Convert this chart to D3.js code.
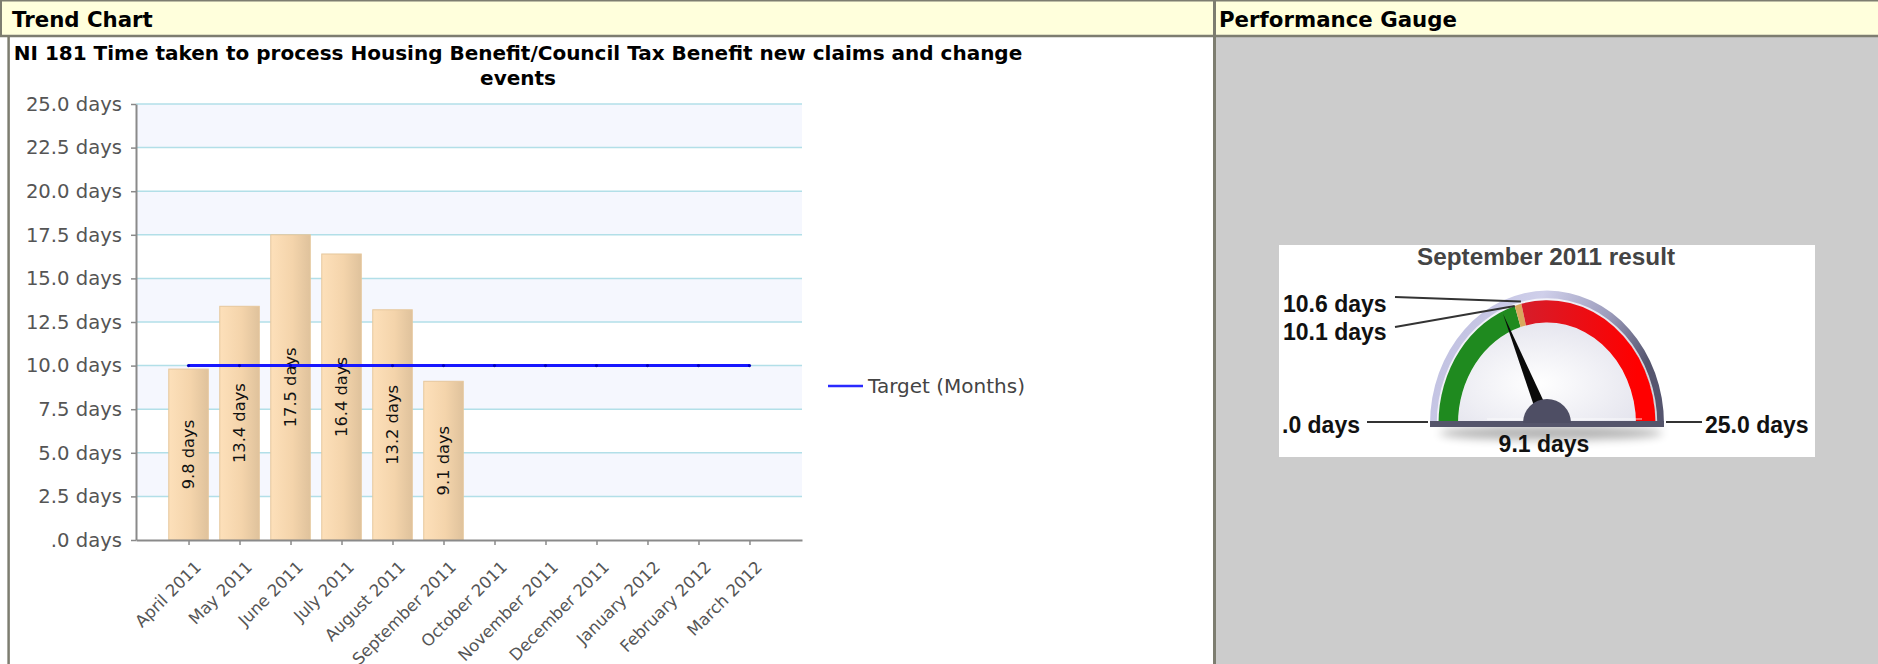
<!DOCTYPE html>
<html>
<head>
<meta charset="utf-8">
<script src="https://cdn.jsdelivr.net/npm/d3@7"></script>
<style>
  body { margin: 0; background: #fff; overflow: hidden; }
  svg { display: block; }
</style>
</head>
<body>
<svg id="page"></svg>
<script>
// ---- data ----
const months = ['April 2011', 'May 2011', 'June 2011', 'July 2011', 'August 2011', 'September 2011',
                'October 2011', 'November 2011', 'December 2011', 'January 2012', 'February 2012', 'March 2012'];
const monthValues = [9.8, 13.4, 17.5, 16.4, 13.2, 9.1]; // only Apr - Sep reported so far
const targetValues = [10, 10, 10, 10, 10, 10, 10, 10, 10, 10, 10, 10];
const yTicks = [0, 2.5, 5, 7.5, 10, 12.5, 15, 17.5, 20, 22.5, 25];
const chartTitle = ['NI 181 Time taken to process Housing Benefit/Council Tax Benefit new claims and change', 'events'];
const legendLabel = 'Target (Months)';
const headers = ['Trend Chart', 'Performance Gauge'];

const gaugeTitle = 'September 2011 result';
const gaugeRange = [0, 25];
const gaugeValue = 9.1;
const gaugeBands = [0, 10.1, 10.6, 25]; // green | amber | red

let w = 1878;
let h = 664;
let chartFont = "'DejaVu Sans', Verdana, sans-serif";
let gaugeFont = "'Liberation Sans', Arial, sans-serif";

let svg = d3.select('#page').attr('width', w).attr('height', h);
let defs = svg.append('defs');

let fmt = v => d3.format('.1f')(v).replace(/^0\./, '.') + ' days';

// ---- page frame (two cell table) ----
let drawFrame = () => {
  let border = '#7d7d70';
  svg.append('rect').attr('x', 0).attr('y', 0).attr('width', w).attr('height', 36).attr('fill', '#ffffdc');
  svg.append('rect').attr('x', 1215).attr('y', 36).attr('width', w - 1215).attr('height', h - 36).attr('fill', '#cccccc');

  let lines = [
    [0, 0.75, w, 0.75, 1.5],
    [0, 36, w, 36, 2.5],
    [1, 0, 1, 36, 2],
    [8.6, 36, 8.6, h, 2.5],
    [1214.5, 0, 1214.5, h, 3]
  ];
  svg.selectAll('.frame').data(lines).join('line')
     .attr('class', 'frame')
     .attr('x1', d => d[0]).attr('y1', d => d[1])
     .attr('x2', d => d[2]).attr('y2', d => d[3])
     .attr('stroke', border).attr('stroke-width', d => d[4]);

  svg.selectAll('.hdr').data(headers).join('text')
     .attr('class', 'hdr')
     .attr('x', (d, i) => i === 0 ? 12 : 1219)
     .attr('y', 27)
     .attr('font-family', chartFont).attr('font-weight', 'bold').attr('font-size', 21.3)
     .attr('fill', '#000')
     .text(d => d);
}

// ---- trend chart ----
let xSc, ySc;

let drawChart = () => {
  xSc = d3.scalePoint().domain(months).range([136, 802]).padding(1.03);
  ySc = d3.scaleLinear().domain([0, 25]).range([540, 104]);

  let bg = defs.append('linearGradient').attr('id', 'barGrad').attr('x1', 0).attr('x2', 1).attr('y1', 0).attr('y2', 0);
  bg.append('stop').attr('offset', '0%').attr('stop-color', '#fde0ba');
  bg.append('stop').attr('offset', '55%').attr('stop-color', '#f4d4ab');
  bg.append('stop').attr('offset', '100%').attr('stop-color', '#dfc29c');

  svg.append('g').selectAll('text').data(chartTitle).join('text')
     .attr('x', 518).attr('y', (d, i) => 59.5 + i * 25)
     .attr('text-anchor', 'middle')
     .attr('font-family', chartFont).attr('font-weight', 'bold').attr('font-size', 20)
     .text(d => d);

  // alternate tinted bands, topmost one tinted
  svg.append('g').selectAll('rect')
     .data(d3.range(yTicks.length - 1).filter(k => k % 2 === 1))
     .join('rect')
     .attr('x', 136).attr('width', 666)
     .attr('y', k => ySc(yTicks[k + 1]))
     .attr('height', k => ySc(yTicks[k]) - ySc(yTicks[k + 1]))
     .attr('fill', '#f5f7fe');

  svg.append('g').selectAll('line').data(yTicks.slice(1)).join('line')
     .attr('x1', 136).attr('x2', 802)
     .attr('y1', d => ySc(d)).attr('y2', d => ySc(d))
     .attr('stroke', '#b2dfe8').attr('stroke-width', 1.5);

  svg.append('g').selectAll('rect').data(monthValues).join('rect')
     .attr('x', (d, i) => xSc(months[i]) - 19.75)
     .attr('width', 39.5)
     .attr('y', d => ySc(d))
     .attr('height', d => ySc(0) - ySc(d))
     .attr('fill', 'url(#barGrad)')
     .attr('stroke', '#e6c79c').attr('stroke-width', 1);

  svg.append('g').selectAll('text').data(monthValues).join('text')
     .attr('transform', (d, i) => 'translate(' + xSc(months[i]) + ',' + (ySc(d) + ySc(0)) / 2 + ') rotate(-90)')
     .attr('text-anchor', 'middle').attr('dy', '0.35em')
     .attr('font-family', chartFont).attr('font-size', 16.3).attr('fill', '#111')
     .text(d => fmt(d));

  let line = d3.line().x((d, i) => xSc(months[i])).y(d => ySc(d));
  svg.append('path').datum(targetValues)
     .attr('d', line).attr('fill', 'none')
     .attr('stroke', '#1717ff').attr('stroke-width', 3);
  svg.append('g').selectAll('circle').data(targetValues).join('circle')
     .attr('cx', (d, i) => xSc(months[i])).attr('cy', d => ySc(d)).attr('r', 1.6)
     .attr('fill', '#0000c0');

  let yAxis = d3.axisLeft(ySc).tickValues(yTicks).tickFormat(fmt)
                .tickSize(5).tickSizeOuter(0).tickPadding(9);
  let yg = svg.append('g').attr('transform', 'translate(136,0)').call(yAxis)
              .attr('font-family', chartFont).attr('font-size', 19.6);
  yg.select('.domain').attr('stroke', '#8a8a8a').attr('stroke-width', 2);
  yg.selectAll('.tick line').attr('stroke', '#8a8a8a').attr('stroke-width', 1.5);
  yg.selectAll('.tick text').attr('fill', '#555');

  let xAxis = d3.axisBottom(xSc).tickSize(5).tickSizeOuter(0);
  let xg = svg.append('g').attr('transform', 'translate(0,540)').call(xAxis)
              .attr('font-family', chartFont).attr('font-size', 16.5);
  xg.select('.domain').attr('stroke', '#8a8a8a').attr('stroke-width', 2);
  xg.selectAll('.tick line').attr('stroke', '#8a8a8a').attr('stroke-width', 1.5);
  xg.selectAll('.tick text')
    .attr('x', 0).attr('y', 0).attr('dy', '0.35em')
    .attr('text-anchor', 'end')
    .attr('transform', 'translate(9,24) rotate(-45)')
    .attr('fill', '#555');

  // legend
  svg.append('line').attr('x1', 828).attr('x2', 863).attr('y1', 386).attr('y2', 386)
     .attr('stroke', '#2a2aff').attr('stroke-width', 2.5);
  svg.append('text').attr('x', 868).attr('y', 386).attr('dy', '0.35em')
     .attr('font-family', chartFont).attr('font-size', 20).attr('fill', '#444')
     .text(legendLabel);
}

// ---- performance gauge ----
let drawGauge = () => {
  let cx = 1547, cy = 424, k = 1.14;
  let rFace = 89, rBand = 108.5, rBezel = 117;

  let ang = d3.scaleLinear().domain(gaugeRange).range([-Math.PI / 2, Math.PI / 2]);
  let arc = d3.arc();
  let pt = (v, r) => [cx + r * Math.sin(ang(v)), cy - r * k * Math.cos(ang(v))];

  let bz = defs.append('linearGradient').attr('id', 'bezelGrad').attr('x1', 0).attr('x2', 1).attr('y1', 0).attr('y2', 0.3);
  bz.append('stop').attr('offset', '0%').attr('stop-color', '#b9b9dc');
  bz.append('stop').attr('offset', '45%').attr('stop-color', '#cfcfea');
  bz.append('stop').attr('offset', '75%').attr('stop-color', '#9c9cbc');
  bz.append('stop').attr('offset', '100%').attr('stop-color', '#55556e');

  let fg = defs.append('radialGradient').attr('id', 'faceGrad').attr('cx', '45%').attr('cy', '60%').attr('r', '70%');
  fg.append('stop').attr('offset', '0%').attr('stop-color', '#ffffff');
  fg.append('stop').attr('offset', '100%').attr('stop-color', '#e2e2ec');

  let rg = defs.append('linearGradient').attr('id', 'redGrad').attr('gradientUnits', 'userSpaceOnUse')
               .attr('x1', -30).attr('x2', 90).attr('y1', 0).attr('y2', 0);
  rg.append('stop').attr('offset', '0%').attr('stop-color', '#d41e2c');
  rg.append('stop').attr('offset', '100%').attr('stop-color', '#ff0000');

  defs.append('filter').attr('id', 'soft').attr('x', '-20%').attr('y', '-200%').attr('width', '140%').attr('height', '500%')
      .append('feGaussianBlur').attr('stdDeviation', 5);

  svg.append('rect').attr('x', 1279).attr('y', 245).attr('width', 536).attr('height', 212).attr('fill', '#fff');

  svg.append('text').attr('x', cx - 1).attr('y', 265).attr('text-anchor', 'middle')
     .attr('font-family', gaugeFont).attr('font-weight', 'bold').attr('font-size', 24.3).attr('fill', '#444')
     .text(gaugeTitle);

  svg.append('ellipse').attr('cx', cx + 4).attr('cy', cy + 9).attr('rx', 112).attr('ry', 7)
     .attr('fill', '#000').attr('opacity', 0.3).attr('filter', 'url(#soft)');

  let g = svg.append('g').attr('transform', 'translate(' + cx + ',' + cy + ') scale(1,' + k + ')');
  g.append('path').attr('d', arc({innerRadius: rBand, outerRadius: rBezel, startAngle: -Math.PI / 2, endAngle: Math.PI / 2}))
   .attr('fill', 'url(#bezelGrad)');
  g.append('path').attr('d', arc({innerRadius: rBand, outerRadius: rBand + 1.8, startAngle: -Math.PI / 2, endAngle: Math.PI / 2}))
   .attr('fill', '#fff').attr('opacity', 0.75);
  g.append('path').attr('d', arc({innerRadius: 0, outerRadius: rFace, startAngle: -Math.PI / 2, endAngle: Math.PI / 2}))
   .attr('fill', 'url(#faceGrad)');

  let bandColors = ['#1f8a1f', '#d9a85e', 'url(#redGrad)'];
  g.selectAll('.band').data(d3.pairs(gaugeBands)).join('path')
   .attr('class', 'band')
   .attr('d', d => arc({innerRadius: rFace, outerRadius: rBand, startAngle: ang(d[0]), endAngle: ang(d[1])}))
   .attr('fill', (d, i) => bandColors[i]);

  g.append('path').attr('d', 'M-6.5,0 L0,-106 L6.5,0 Z')
   .attr('transform', 'rotate(' + ang(gaugeValue) * 180 / Math.PI + ')')
   .attr('fill', '#0a0a0a');

  svg.append('rect').attr('x', cx - rBezel).attr('y', cy - 3).attr('width', 2 * rBezel).attr('height', 6)
     .attr('fill', '#55556b');
  svg.append('line').attr('x1', cx - 60).attr('x2', cx + 95).attr('y1', cy - 5).attr('y2', cy - 5)
     .attr('stroke', '#fff').attr('stroke-width', 1).attr('opacity', 0.8);

  svg.append('path').attr('transform', 'translate(' + cx + ',' + (cy - 1) + ')')
     .attr('d', arc({innerRadius: 0, outerRadius: 24, startAngle: -Math.PI / 2, endAngle: Math.PI / 2}))
     .attr('fill', '#4e4e64');

  // leader lines and labels
  let leaders = [
    {v: gaugeBands[2], lx: 1283, ly: 312, from: [1395, 297], to: pt(gaugeBands[2], rBand + 2)},
    {v: gaugeBands[1], lx: 1283, ly: 340, from: [1395, 327], to: pt(gaugeBands[1], rBand)},
    {v: gaugeRange[0], lx: 1282, ly: 433, from: [1367, cy - 2], to: [cx - rBezel - 2, cy - 2]},
    {v: gaugeRange[1], lx: 1705, ly: 433, from: [1702, cy - 2], to: [cx + rBezel + 2, cy - 2]}
  ];
  svg.selectAll('.lead').data(leaders).join('line')
     .attr('class', 'lead')
     .attr('x1', d => d.from[0]).attr('y1', d => d.from[1])
     .attr('x2', d => d.to[0]).attr('y2', d => d.to[1])
     .attr('stroke', '#333').attr('stroke-width', 2);
  svg.selectAll('.glab').data(leaders).join('text')
     .attr('class', 'glab')
     .attr('x', d => d.lx).attr('y', d => d.ly)
     .attr('font-family', gaugeFont).attr('font-weight', 'bold').attr('font-size', 23).attr('fill', '#111')
     .text(d => fmt(d.v));

  svg.append('text').attr('x', cx - 3).attr('y', 452).attr('text-anchor', 'middle')
     .attr('font-family', gaugeFont).attr('font-weight', 'bold').attr('font-size', 23).attr('fill', '#111')
     .text(fmt(gaugeValue));
}

drawFrame();
drawChart();
drawGauge();
</script>
</body>
</html>
